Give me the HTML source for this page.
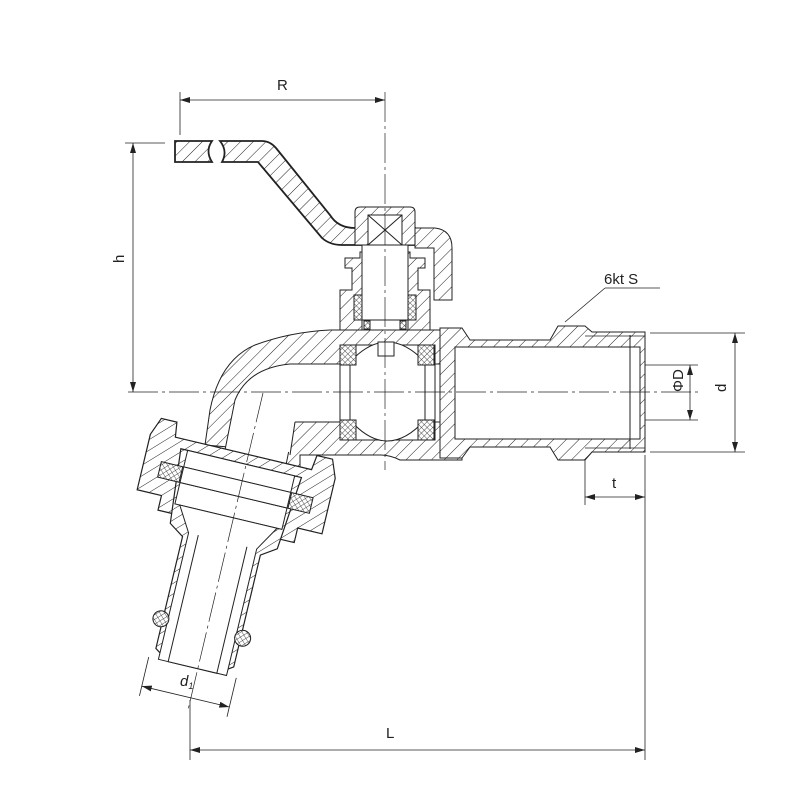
<!DOCTYPE html><html><head><style>body{margin:0;background:#fff}svg{display:block}text{font-family:"Liberation Sans",sans-serif;fill:#222}</style></head><body>
<svg width="800" height="800" viewBox="0 0 800 800" xmlns="http://www.w3.org/2000/svg">
<defs>
<pattern id="h" width="9" height="9" patternUnits="userSpaceOnUse" patternTransform="rotate(45)"><rect width="9" height="9" fill="#fff"/><line x1="0" y1="0" x2="0" y2="9" stroke="#222" stroke-width="1"/></pattern>
<pattern id="x" width="4" height="4" patternUnits="userSpaceOnUse" patternTransform="rotate(45)"><rect width="4" height="4" fill="#fff"/><path d="M0 0V4M0 0H4" stroke="#222" stroke-width="0.8"/></pattern>
<marker id="a" markerWidth="10" markerHeight="6" refX="10" refY="3" orient="auto-start-reverse" markerUnits="userSpaceOnUse"><path d="M0 0L10 3L0 6z" fill="#222"/></marker>
</defs>
<g stroke="#222" fill="none" stroke-width="1">
<line x1="180" y1="92" x2="180" y2="135" stroke-width="0.8"/>
<line x1="180" y1="100" x2="385" y2="100" marker-start="url(#a)" marker-end="url(#a)" stroke-width="0.8"/>
<line x1="125" y1="143" x2="165" y2="143" stroke-width="0.8"/>
<line x1="133" y1="143" x2="133" y2="392" marker-start="url(#a)" marker-end="url(#a)" stroke-width="0.8"/>
<line x1="650" y1="333" x2="745" y2="333" stroke-width="0.8"/>
<line x1="650" y1="452" x2="745" y2="452" stroke-width="0.8"/>
<line x1="735" y1="333" x2="735" y2="452" marker-start="url(#a)" marker-end="url(#a)" stroke-width="0.8"/>
<line x1="645" y1="365" x2="698" y2="365" stroke-width="0.8"/>
<line x1="645" y1="420" x2="698" y2="420" stroke-width="0.8"/>
<line x1="690" y1="365" x2="690" y2="420" marker-start="url(#a)" marker-end="url(#a)" stroke-width="0.8"/>
<line x1="585" y1="458" x2="585" y2="505" stroke-width="0.8"/>
<line x1="645" y1="455" x2="645" y2="760" stroke-width="0.8"/>
<line x1="585" y1="497" x2="645" y2="497" marker-start="url(#a)" marker-end="url(#a)" stroke-width="0.8"/>
<line x1="190" y1="700" x2="190" y2="760" stroke-width="0.8"/>
<line x1="190" y1="750" x2="645" y2="750" marker-start="url(#a)" marker-end="url(#a)" stroke-width="0.8"/>
<line x1="565" y1="322" x2="605" y2="288" stroke-width="0.8"/>
<line x1="605" y1="288" x2="660" y2="288" stroke-width="0.8"/>

<!-- handle -->
<path d="M175 141H212Q205 151 212 162H175Z" fill="url(#h)" stroke-width="1.8"/>
<path d="M220 141H262Q270 141 276 148L330 215Q338 228 355 228H415V245H342Q330 245 322 238L258 162H222Q228 151 220 141Z" fill="url(#h)" stroke-width="1.8"/>
<path d="M415 228H435Q452 230 452 248V300H434V248H415Z" fill="url(#h)"/>
<path d="M355 212Q355 207 360 207H410Q415 207 415 212V245H355Z" fill="url(#h)"/>
<rect x="368" y="215" width="34" height="30" fill="#fff"/>
<path d="M368 215L402 245M402 215L368 245"/>
<path d="M345 258H360V252H410V258H425V268H418V290H430V330H340V290H352V268H345Z" fill="url(#h)"/>
<rect x="362" y="245" width="46" height="80" fill="#fff"/>
<rect x="354" y="295" width="8" height="25" fill="url(#x)"/>
<rect x="408" y="295" width="8" height="25" fill="url(#x)"/>
<rect x="362" y="320" width="46" height="10" fill="#fff"/>
<rect x="364" y="321" width="6" height="8" fill="url(#x)"/>
<rect x="400" y="321" width="6" height="8" fill="url(#x)"/>

<!-- body -->
<path d="M330 330H462V460H400Q390 455 380 455H300V470H285L290 445Q280 445 240 448L205 445L210 410Q220 360 255 345Q290 332 330 330Z" fill="url(#h)"/>
<path d="M460 364H290Q248 368 235 400L225 450L290 452L295 422H460Z" fill="#fff" stroke="none"/>
<path d="M290 364Q248 368 235 400L225 450"/>
<line x1="290" y1="364" x2="462" y2="364"/><line x1="295" y1="422" x2="462" y2="422"/><line x1="295" y1="422" x2="290" y2="455"/>
<rect x="340" y="345" width="95" height="95" fill="#fff"/>
<path d="M350 362Q387 322 425 362V420Q387 462 350 420Z" fill="#fff"/>
<rect x="340" y="345" width="16" height="20" fill="url(#x)"/>
<rect x="418" y="345" width="16" height="20" fill="url(#x)"/>
<rect x="340" y="420" width="16" height="20" fill="url(#x)"/>
<rect x="418" y="420" width="16" height="20" fill="url(#x)"/>
<rect x="378" y="342" width="16" height="14" fill="#fff"/>
<path d="M440 328H462L470 340H550L558 326H585L592 332H645V452H592L585 460H558L550 447H470L462 458H440Z" fill="url(#h)"/>
<rect x="455" y="347" width="185" height="92" fill="#fff"/>
<line x1="630" y1="335" x2="630" y2="449"/>
<line x1="585" y1="336" x2="645" y2="336" stroke-width="0.7"/>
<line x1="585" y1="448" x2="645" y2="448" stroke-width="0.7"/>

<g transform="translate(240,468) rotate(13.4)">
<path d="M-95 -12L-88 -30H-72L-70 -15H70L72 -30H88L95 -12V45H70V60H-70V45H-95Z" fill="url(#h)" stroke-width="1.2"/>
<path d="M-62 -5H62L55 70L40 80V195L25 205H-25L-40 195V80L-55 70Z" fill="url(#h)" stroke-width="1.2"/>
<path d="M-55 -5H55V12H-55Z" fill="#fff"/>
<path d="M-55 28H55V50H-55Z" fill="#fff"/>
<rect x="-78" y="12" width="22" height="16" fill="url(#x)"/>
<rect x="56" y="12" width="22" height="16" fill="url(#x)"/>
<path d="M-55 12H55V28H-55Z" fill="#fff"/>
<path d="M-50 50H50L35 75V205H-35V75Z" fill="#fff"/>
<line x1="-25" y1="75" x2="-25" y2="205"/><line x1="25" y1="75" x2="25" y2="205"/>
<circle cx="-42" cy="165" r="8" fill="url(#x)"/>
<circle cx="42" cy="165" r="8" fill="url(#x)"/>
<line x1="-45" y1="205" x2="-45" y2="245" stroke-width="0.8"/>
<line x1="45" y1="205" x2="45" y2="245" stroke-width="0.8"/>
<line x1="-45" y1="235" x2="45" y2="235" marker-start="url(#a)" marker-end="url(#a)" stroke-width="0.8"/>
</g>
<line x1="385" y1="92" x2="385" y2="470" stroke-dasharray="30 4 3 4" stroke-width="0.7"/>
<line x1="128" y1="392" x2="700" y2="392" stroke-dasharray="30 4 3 4" stroke-width="0.7"/>
<line x1="263" y1="393" x2="188" y2="710" stroke-dasharray="30 4 3 4" stroke-width="0.7"/>
</g>
<text x="277" y="90" font-size="15">R</text>
<text x="125" y="272" font-size="15" transform="rotate(-90 120 268)">h</text>
<text x="604" y="284" font-size="15">6kt S</text>
<text x="675" y="400" font-size="15" transform="rotate(-90 675 392)">ΦD</text>
<text x="720" y="398" font-size="15" transform="rotate(-90 720 392)">d</text>
<text x="612" y="488" font-size="15">t</text>
<text x="386" y="738" font-size="15">L</text>
<text x="180" y="686" font-size="15" font-style="italic">d<tspan font-size="9" dy="3">1</tspan></text>
</svg></body></html>
